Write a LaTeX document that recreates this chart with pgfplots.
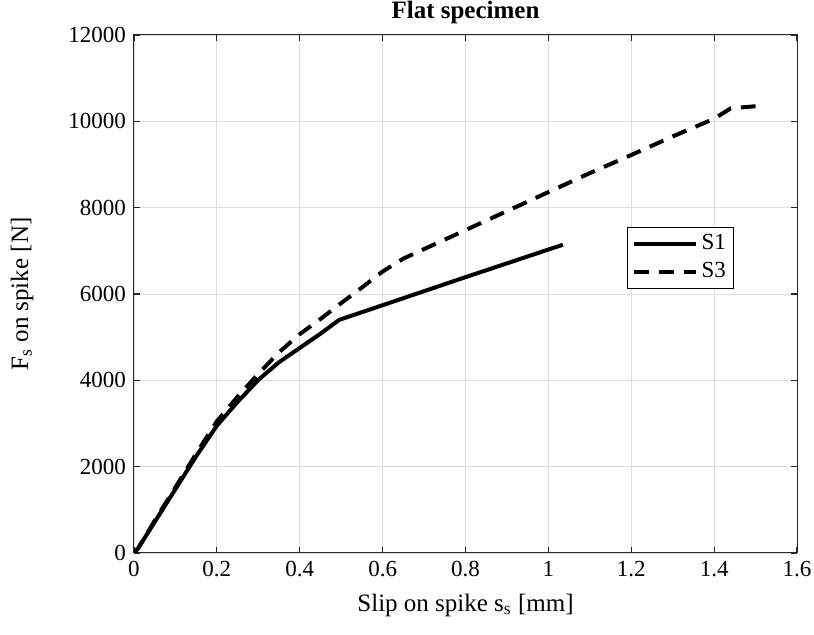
\documentclass[border=0pt]{standalone}
\usepackage{fontspec}
\setmainfont{Liberation Serif}
\usepackage{pgfplots}
\pgfplotsset{compat=1.18}
\definecolor{gridgray}{gray}{0.87}
\definecolor{axgray}{gray}{0.15}
\begin{document}
\fontsize{11.5}{13.5}\selectfont
\begin{tikzpicture}
\path[use as bounding box] (-67pt,-41pt) rectangle (340pt,276.5pt);
\begin{axis}[
  at={(0,0)}, anchor=south west,
  scale only axis, width=331.5pt, height=259pt,
  xmin=0, xmax=1.6, ymin=0, ymax=12000,
  xtick={0,0.2,...,1.6}, ytick={0,2000,...,12000},
  scaled y ticks=false,
  /pgf/number format/assume math mode=true,
  /pgf/number format/set thousands separator={},
  tick label style={font=\fontsize{11.5}{13.5}\selectfont},
  tick align=inside, tick pos=both,
  major tick length=3pt,
  tick style={axgray, line width=0.6pt},
  axis line style={axgray, line width=0.5pt},
  grid=major, grid style={gridgray, line width=0.4pt},
  title={Flat specimen},
  title style={at={(axis description cs:0.5,1)}, anchor=center, yshift=5.5pt, font=\fontsize{12.5}{14.5}\selectfont\bfseries},
  xlabel={Slip on spike s\textsubscript{s} [mm]},
  ylabel={F\textsubscript{s} on spike [N]},
  xlabel style={at={(axis description cs:0.5,0)}, anchor=center, yshift=-26pt, font=\fontsize{12.5}{14.5}\selectfont},
  ylabel style={at={(axis description cs:0,0.5)}, anchor=center, rotate=0, yshift=56pt, font=\fontsize{12.5}{14.5}\selectfont},
  legend style={at={(rel axis cs:0.7436,0.629)}, anchor=north west,
    draw=black, line width=0.5pt, font=\fontsize{11.5}{13.5}\selectfont,
    inner xsep=2pt, inner ysep=1.5pt, row sep=0.5pt},
  legend cell align=left,
  legend image code/.code={\draw[#1] (0pt,0pt) -- (31pt,0pt);},
]
\addplot[black, line width=2pt, line join=round] coordinates {
(0,0) (0.01,110) (0.05,720) (0.1,1480) (0.15,2240) (0.2,2950) (0.25,3500)
(0.3,4010) (0.35,4420) (0.4,4750) (0.45,5080) (0.495,5400)
(0.6,5740) (0.8,6390) (1.0,7030) (1.035,7140)
};
\addlegendentry{S1}
\addplot[black, line width=2pt, dash pattern=on 7.5pt off 5pt] coordinates {
(0,0) (0.01,110) (0.05,750) (0.1,1520) (0.15,2300) (0.2,3050) (0.25,3620)
(0.3,4150) (0.35,4650) (0.4,5070) (0.45,5420) (0.5,5790) (0.55,6150)
(0.6,6520) (0.65,6820) (0.7,7040) (0.8,7480) (0.9,7920) (1.0,8360)
(1.1,8800) (1.2,9220) (1.3,9650) (1.4,10060) (1.44,10300) (1.5,10350)
};
\addlegendentry{S3}
\end{axis}
\end{tikzpicture}
\end{document}
